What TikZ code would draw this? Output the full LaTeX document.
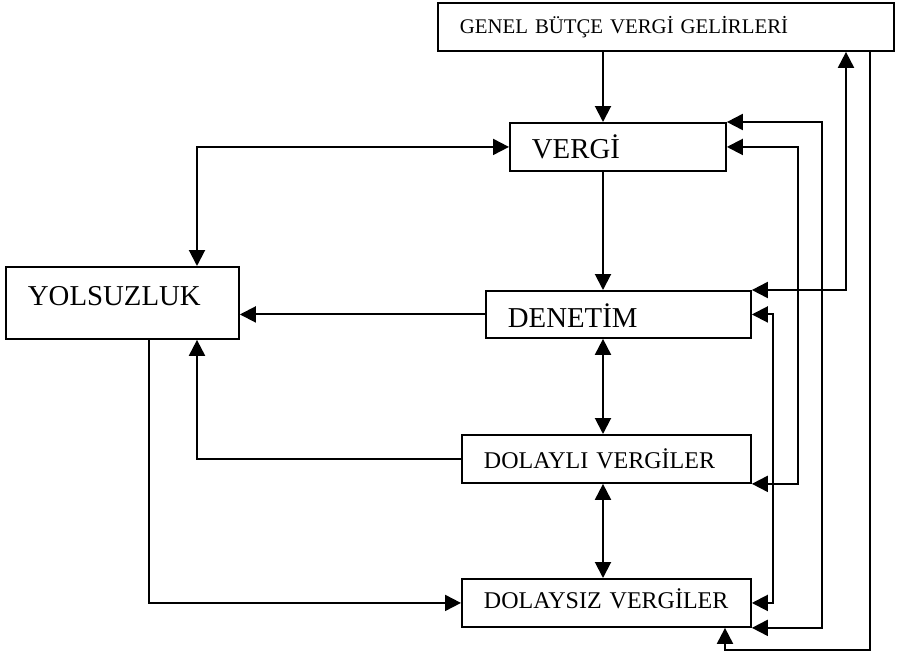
\documentclass[tikz,border=0pt]{standalone}
\usepackage{fontspec}
\setmainfont{Liberation Serif}
\usetikzlibrary{positioning, arrows.meta}

\begin{document}
\begin{tikzpicture}[
  x=0.75pt, y=-0.75pt,
  kutu/.style={draw, line width=1.4pt, anchor=north west, align=left,
               inner xsep=16.5pt, inner ysep=0pt},
  buyuk/.style={font=\fontsize{21.6}{26}\selectfont},
  orta/.style={font=\fontsize{18}{22}\selectfont},
  kucuk/.style={font=\fontsize{15.6}{19}\selectfont},
  ok/.style={-{Triangle[length=12pt, width=12pt]}, line width=1.5pt},
  ciftok/.style={{Triangle[length=12pt, width=12pt]}-{Triangle[length=12pt, width=12pt]}, line width=1.5pt}]
  \useasboundingbox (0,0) rectangle (897,654);
  \node[kutu, kucuk, text width=309pt, text height=23.25pt, text depth=12.75pt] (genel) at (437,2) {GENEL BÜTÇE VERGİ GELİRLERİ};
  \node[kutu, buyuk, text width=129pt, text height=27pt, text depth=9pt] (vergi) at (509,122) {VERGİ};
  \node[kutu, buyuk, text width=141.75pt, text height=29.25pt, text depth=24.75pt] (yols) at (5,266) {YOLSUZLUK};
  \node[kutu, buyuk, text width=165.75pt, text height=27.75pt, text depth=7.5pt] (denetim) at (485,290) {DENETİM};
  \node[kutu, orta, text width=183.75pt, text height=25.5pt, text depth=10.5pt] (dolayli) at (461,434) {DOLAYLI VERGİLER};
  \node[kutu, orta, text width=183.75pt, text height=22.5pt, text depth=13.5pt] (dolaysiz) at (461,578) {DOLAYSIZ VERGİLER};
  % guide lines
  \coordinate (orta) at (603,0);
  \coordinate (sol) at (197,0);
  \coordinate (sol2) at (149,0);
  \coordinate (sag1) at (773,0);
  \coordinate (sag2) at (798,0);
  \coordinate (sag3) at (822,0);
  \coordinate (sag4) at (846,0);
  \coordinate (dip) at (870,650);
  \coordinate (ayak) at (725,0);
  % middle column
  \draw[ok] (genel.south -| orta) -- (vergi.north -| orta);
  \draw[ok] (vergi.south -| orta) -- (denetim.north -| orta);
  \draw[ciftok] (denetim.south -| orta) -- (dolayli.north -| orta);
  \draw[ciftok] (dolayli.south -| orta) -- (dolaysiz.north -| orta);
  % left side
  \draw[ciftok] (vergi.west) -| (yols.north -| sol);
  \draw[ok] (denetim.west) -- (denetim.west -| yols.east);
  \draw[ok] (dolayli.west) -| (yols.south -| sol);
  \draw[ok] (yols.south -| sol2) |- (dolaysiz.west);
  % right side
  \draw[ciftok] (denetim.north east) -| (genel.south -| sag4);
  \draw[ciftok] (vergi.north east) -- (vergi.north east -| sag3) |- (dolaysiz.south east);
  \draw[ciftok] (vergi.east) -- (vergi.east -| sag2) |- (dolayli.south east);
  \draw[ciftok] (denetim.east) -- (denetim.east -| sag1) |- (dolaysiz.east);
  \draw[ok] (genel.south -| dip) -- (dip) -| (dolaysiz.south -| ayak);
\end{tikzpicture}
\end{document}
